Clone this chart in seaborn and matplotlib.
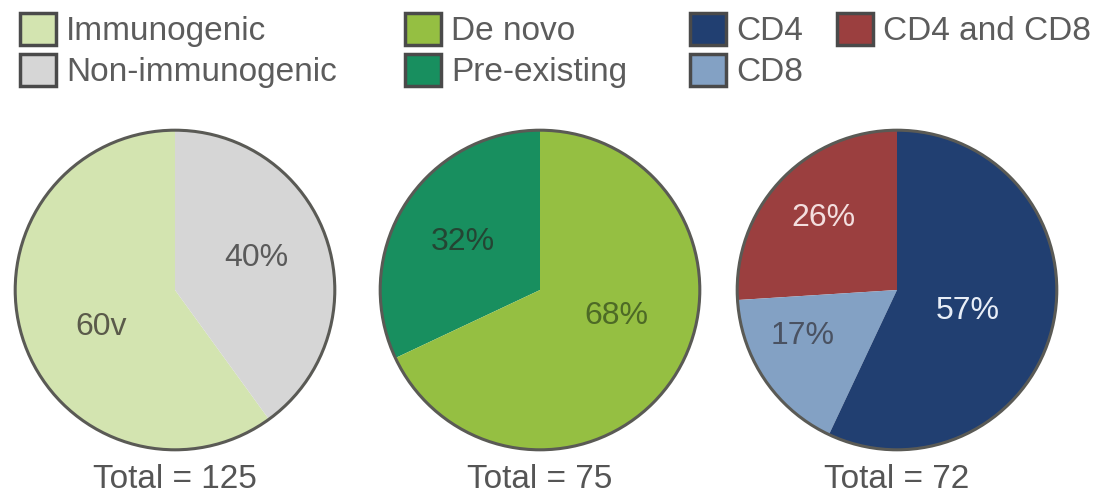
import matplotlib
matplotlib.use("Agg")
import matplotlib.pyplot as plt
from matplotlib.patches import Patch, Circle
import seaborn as sns

# data
immuno_labels = ["Immunogenic", "Non-immunogenic"]
immuno_values = [60, 40]
immuno_text = ["60v", "40%"]

origin_labels = ["Pre-existing", "De novo"]
origin_values = [32, 68]
origin_text = ["32%", "68%"]

tcell_labels = ["CD4 and CD8", "CD8", "CD4"]
tcell_values = [26, 17, 57]
tcell_text = ["26%", "17%", "57%"]

totals = [125, 75, 72]

colors = {
    "Immunogenic": "#d3e4b0",
    "Non-immunogenic": "#d6d6d6",
    "De novo": "#95bf42",
    "Pre-existing": "#188f5f",
    "CD4": "#213f71",
    "CD8": "#83a1c4",
    "CD4 and CD8": "#9b3f3f",
}
text_colors = {
    "60v": "#5a5a4a", "40%": "#5a5a5a",
    "32%": "#244533", "68%": "#4d6a26",
    "26%": "#f3dede", "17%": "#4a5262", "57%": "#e8eef7",
}
# label offsets in radius units (layout only)
label_pos = {
    "60v": (-0.46, -0.23), "40%": (0.51, 0.20),
    "32%": (-0.48, 0.30), "68%": (0.48, -0.16),
    "26%": (-0.46, 0.45), "17%": (-0.59, -0.29), "57%": (0.44, -0.13),
}

sns.set_theme(style="white")
plt.rcParams["font.family"] = ["Liberation Sans", "DejaVu Sans"]

W, H = 1106, 501
fig = plt.figure(figsize=(W / 100, H / 100), dpi=100)

centers_x = [175, 540, 897]
cy, r = 290, 163
pies = [
    (immuno_labels, immuno_values, immuno_text),
    (origin_labels, origin_values, origin_text),
    (tcell_labels, tcell_values, tcell_text),
]

for cx, (labs, vals, txts), tot in zip(centers_x, pies, totals):
    ax = fig.add_axes([(cx - r) / W, (H - cy - r) / H, 2 * r / W, 2 * r / H])
    ax.pie(vals, colors=[colors[l] for l in labs], startangle=90,
           counterclock=True, radius=1, wedgeprops=dict(linewidth=0))
    ax.add_patch(Circle((0, 0), 1, fill=False, edgecolor="#5a5a55", linewidth=2.2))
    for t in txts:
        x, y = label_pos[t]
        ax.text(x, y, t, ha="center", va="center", fontsize=23,
                color=text_colors[t])
    ax.set_xlim(-1.02, 1.02)
    ax.set_ylim(-1.02, 1.02)
    ax.set_aspect("equal")
    ax.axis("off")
    fig.text(cx / W, 1 - 479 / H, f"Total = {tot}", ha="center", va="center",
             fontsize=24, color="#555555")


def make_legend(names, anchor, ncol=1):
    handles = [Patch(facecolor=colors[n], edgecolor="#4a4a4a", linewidth=2.5, label=n)
               for n in names]
    leg = fig.legend(handles=handles, loc="upper left", bbox_to_anchor=anchor,
                     ncol=ncol, frameon=False, fontsize=24, borderpad=0,
                     handlelength=1.1, handleheight=1.1, handletextpad=0.3,
                     labelspacing=0.2, columnspacing=1.0)
    for t in leg.get_texts():
        t.set_color("#5c5c5c")
    return leg


make_legend(["Immunogenic", "Non-immunogenic"], (3 / W, 1 + 4 / H))
make_legend(["De novo", "Pre-existing"], (388 / W, 1 + 4 / H))
make_legend(["CD4", "CD8", "CD4 and CD8"], (673 / W, 1 + 4 / H), ncol=2)

fig.savefig("out.png", dpi=100, facecolor="white")
